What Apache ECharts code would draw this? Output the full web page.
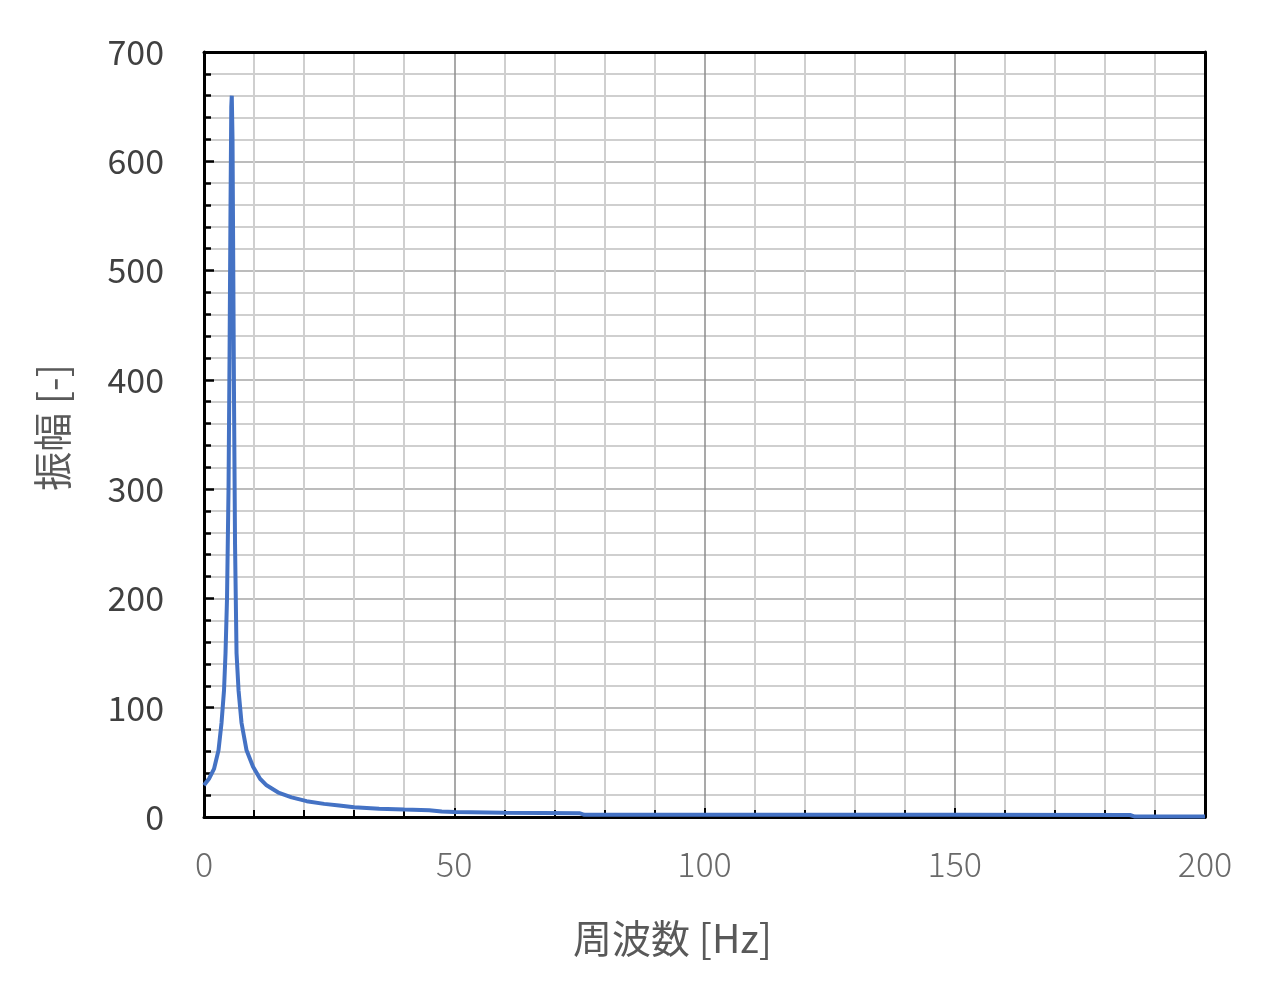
<!DOCTYPE html>
<html>
<head>
<meta charset="utf-8">
<script src="https://cdn.jsdelivr.net/npm/echarts@6/dist/echarts.min.js"></script>
<style>
html,body{margin:0;padding:0;background:#fff;}
#chart{width:1280px;height:991px;}
</style>
</head>
<body>
<div id="chart"></div>
<script>
// Frequency [Hz]
const freqs = [0, 1, 2, 2.9, 3.5, 4.0, 4.3, 4.6, 4.9, 5.1, 5.3, 5.45, 5.55, 5.7, 5.85, 6.0, 6.2, 6.5, 6.9, 7.5, 8.5, 9.8, 11.2, 12.5, 15, 17.5, 20.5, 24, 27, 30, 35, 40, 45, 47.5, 50, 60, 75, 76, 100, 150, 185, 186, 200];
// Amplitude [-]
const amps  = [29, 35, 44, 61, 86, 116, 150, 200, 300, 420, 560, 650, 660, 620, 500, 380, 250, 150, 116, 86, 61, 46, 35, 29, 22, 18, 14.5, 12, 10.5, 9, 7.5, 6.8, 6.2, 5, 4.5, 4, 3.5, 2, 2, 2, 1.8, 0.4, 0.4];
const xTicks = [0, 50, 100, 150, 200];
const yTicks = [0, 100, 200, 300, 400, 500, 600, 700];
const xName = '周波数 [Hz]';
const yName = '振幅 [-]';

const chart = echarts.init(document.getElementById('chart'));
const font = '"Noto Sans CJK JP", "Noto Sans", sans-serif';
const xMin = xTicks[0], xMax = xTicks[xTicks.length-1];
const yMin = yTicks[0], yMax = yTicks[yTicks.length-1];
chart.setOption({
  animation: false,
  backgroundColor: '#fff',
  grid: {left: 204, top: 52, width: 1001, height: 765},
  xAxis: [{
    type: 'value', min: xMin, max: xMax, interval: xTicks[1]-xTicks[0],
    name: xName, nameLocation: 'middle', nameGap: 102,
    nameTextStyle: {fontFamily: font, fontSize: 39, color: '#595959', padding: [0, 64, 0, 0]},
    axisLine: {show: true, onZero: false, lineStyle: {color: '#000', width: 3}},
    axisTick: {show: true, inside: true, length: 9, lineStyle: {color: '#000', width: 2}},
    minorTick: {show: true, splitNumber: 5, length: 7, lineStyle: {color: '#000', width: 2}},
    axisLabel: {margin: 30, fontFamily: font, fontSize: 34, fontWeight: 300, color: '#6a6a6a'},
    splitLine: {show: true, lineStyle: {color: '#8c8c8c', width: 1.5}},
    minorSplitLine: {show: true, lineStyle: {color: '#cfcfcf', width: 2}},
    z: 3
  }, {
    type: 'value', position: 'top', min: xMin, max: xMax,
    axisLine: {show: true, onZero: false, lineStyle: {color: '#000', width: 3}},
    axisTick: {show: false}, axisLabel: {show: false}, splitLine: {show: false}, z: 4
  }],
  yAxis: [{
    type: 'value', min: yMin, max: yMax, interval: yTicks[1]-yTicks[0],
    name: yName, nameLocation: 'middle', nameGap: 132, nameRotate: 90,
    nameTextStyle: {fontFamily: font, fontSize: 39, color: '#595959', padding: [0, 0, 0, 14]},
    axisLine: {show: true, onZero: false, lineStyle: {color: '#000', width: 3}},
    axisTick: {show: true, inside: true, length: 10, lineStyle: {color: '#000', width: 2.5}},
    minorTick: {show: true, splitNumber: 5, length: 7, lineStyle: {color: '#000', width: 2.5}},
    axisLabel: {margin: 40, fontFamily: font, fontSize: 34, color: '#404040'},
    splitLine: {show: true, lineStyle: {color: '#a6a6a6', width: 1.5}},
    minorSplitLine: {show: true, lineStyle: {color: '#cfcfcf', width: 2}},
    z: 3
  }, {
    type: 'value', position: 'right', min: yMin, max: yMax,
    axisLine: {show: true, onZero: false, lineStyle: {color: '#000', width: 3}},
    axisTick: {show: false}, axisLabel: {show: false}, splitLine: {show: false}, z: 4
  }],
  series: [{
    type: 'line',
    data: freqs.map((f, i) => [f, amps[i]]),
    showSymbol: false,
    smooth: false,
    lineStyle: {color: '#4472C4', width: 4},
    z: 5
  }]
});
</script>
</body>
</html>
